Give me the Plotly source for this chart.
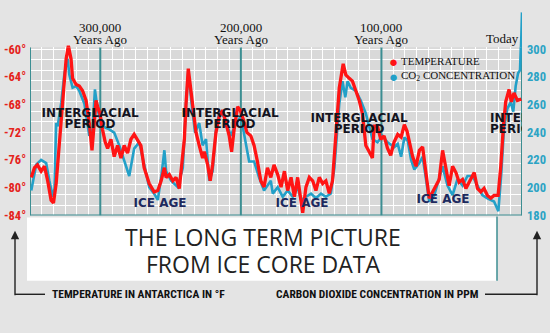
import plotly.graph_objects as go

W, H = 550, 333

# ---- Antarctic temperature, thousands of years before present / deg F ----
temp_age_kyr = [
    -349.1, -346.8, -344.7, -342.1, -339.7, -337.4, -335.0, -333.3, -331.4, -329.1,
    -326.7, -324.3, -322.7, -320.8, -319.7, -317.2, -314.9, -312.6, -310.1, -307.8,
    -305.9, -304.3, -303.0, -301.9, -300.2, -298.4, -296.5, -294.8, -292.4, -290.1,
    -287.7, -285.3, -283.0, -280.6, -278.2, -275.9, -273.5, -271.1, -268.8, -265.2,
    -261.7, -259.1, -256.7, -254.4, -253.2, -250.9, -248.4, -246.1, -243.8, -242.1,
    -240.2, -239.0, -237.4, -235.5, -233.5, -231.9, -229.6, -227.2, -226.0, -223.6,
    -221.8, -220.1, -217.7, -215.4, -213.0, -210.6, -208.3, -206.6, -204.8, -202.3,
    -200.5, -198.1, -195.7, -192.9, -190.6, -188.2, -185.8, -183.5, -181.1, -178.7,
    -176.4, -173.8, -171.4, -169.0, -166.7, -164.3, -161.9, -159.6, -157.9, -156.0,
    -153.7, -151.3, -148.9, -146.6, -144.2, -141.8, -139.5, -137.1, -134.8, -132.4,
    -130.0, -127.2, -125.3, -122.9, -120.6, -118.2, -115.8, -113.5, -111.1, -108.7,
    -106.4, -105.2, -102.8, -100.5, -98.1, -95.7, -93.4, -91.0, -88.4, -86.0,
    -83.7, -81.8, -80.1, -77.8, -75.4, -73.0, -70.7, -68.3, -66.0, -63.6,
    -61.2, -58.9, -56.5, -54.1, -51.8, -49.4, -47.0, -44.7, -42.3, -39.9,
    -37.6, -34.0, -31.7, -29.3, -27.0, -24.6, -22.2, -19.9, -17.0, -15.1,
    -13.3, -11.6, -9.2, -7.6, -5.7, -3.3, -0.5,
]
temp_f = [
    -78.5, -77.1, -76.7, -77.6, -76.9, -79.0, -81.8, -82.2, -79.4, -73.9,
    -67.9, -61.4, -59.5, -61.4, -64.2, -65.1, -65.3, -66.0, -67.4, -70.7,
    -74.6, -70.7, -67.4, -68.3, -69.3, -71.6, -73.4, -74.3, -73.0, -75.5,
    -73.9, -75.7, -73.9, -75.0, -73.0, -72.3, -73.0, -73.9, -77.1, -79.4,
    -80.6, -80.4, -79.0, -77.1, -78.5, -78.1, -79.0, -78.5, -80.1, -77.1,
    -73.0, -67.9, -62.8, -66.0, -69.7, -72.0, -73.9, -75.7, -74.8, -76.7,
    -79.0, -76.7, -72.0, -69.7, -68.8, -70.7, -72.5, -74.8, -71.6, -68.3,
    -68.8, -70.2, -72.0, -72.5, -73.9, -76.2, -79.0, -79.9, -77.1, -78.5,
    -76.7, -78.1, -79.9, -77.6, -80.4, -78.5, -81.3, -78.5, -81.3, -83.6,
    -79.9, -78.5, -79.0, -80.4, -78.5, -79.4, -79.0, -80.8, -79.0, -72.5,
    -65.6, -62.1, -63.7, -64.2, -64.6, -66.0, -67.4, -69.3, -73.9, -74.8,
    -75.7, -71.1, -71.1, -73.0, -72.5, -74.3, -75.3, -73.4, -72.3, -72.7,
    -70.9, -71.8, -73.2, -75.5, -76.9, -74.6, -74.1, -78.3, -81.5, -80.6,
    -79.7, -78.8, -74.6, -77.4, -79.7, -76.9, -77.8, -79.2, -78.8, -80.1,
    -79.2, -77.8, -80.1, -80.6, -80.1, -81.1, -81.5, -81.1, -81.1, -76.9,
    -71.3, -67.6, -65.8, -67.6, -66.3, -67.4, -67.2,
]

# ---- Atmospheric CO2, thousands of years before present / ppm ----
co2_age_kyr = [
    -349.1, -345.6, -342.1, -338.5, -336.2, -333.8, -332.6, -331.4, -330.3, -327.7,
    -325.5, -323.2, -322.0, -319.7, -317.2, -314.9, -311.3, -307.8, -305.5, -303.8,
    -301.9, -298.4, -293.6, -290.1, -286.5, -283.0, -279.4, -275.9, -272.3, -268.8,
    -265.2, -261.7, -259.1, -256.7, -254.4, -253.2, -249.6, -244.9, -241.3, -239.0,
    -237.4, -235.0, -232.6, -229.6, -227.2, -224.8, -222.5, -220.1, -217.7, -215.4,
    -211.8, -207.1, -203.5, -200.0, -196.5, -194.1, -190.6, -187.0, -183.5, -178.7,
    -177.3, -173.8, -170.2, -166.7, -163.1, -159.6, -157.2, -153.7, -150.1, -146.6,
    -143.0, -139.5, -136.0, -133.5, -130.0, -127.7, -125.7, -124.1, -121.8, -118.2,
    -114.7, -111.1, -108.7, -106.4, -102.8, -99.3, -95.7, -92.2, -90.8, -88.4,
    -86.0, -83.7, -81.3, -78.9, -76.6, -73.0, -70.7, -68.3, -66.0, -62.4,
    -58.9, -56.5, -53.0, -49.4, -45.9, -42.3, -38.8, -35.2, -31.7, -28.2,
    -24.6, -19.9, -16.8, -14.7, -12.8, -10.4, -8.0, -6.2, -4.5, -2.8,
    -1.4, -0.5, 0.0,
]
co2_ppm = [
    198.1, 216.7, 220.1, 217.8, 205.1, 193.5, 199.3, 246.7, 244.4, 261.8,
    282.6, 293.1, 281.5, 272.2, 273.4, 269.9, 260.6, 237.5, 242.2, 271.0,
    256.0, 244.4, 242.2, 239.8, 230.6, 219.0, 208.5, 228.3, 232.8, 216.7,
    200.5, 195.8, 191.2, 207.4, 227.1, 212.0, 205.1, 200.5, 214.4, 260.6,
    283.8, 260.6, 239.8, 246.7, 230.6, 235.2, 205.1, 212.0, 242.2, 253.7,
    251.4, 237.5, 246.7, 251.4, 230.6, 219.0, 219.0, 207.4, 198.1, 205.1,
    195.8, 200.5, 193.5, 198.1, 193.5, 200.5, 191.2, 193.5, 195.8, 192.4,
    195.8, 193.5, 195.8, 214.4, 260.6, 276.9, 265.3, 276.9, 272.2, 269.9,
    263.0, 253.7, 244.4, 235.2, 232.8, 237.5, 232.8, 230.6, 229.4, 231.7,
    222.4, 236.3, 234.0, 220.1, 213.2, 217.8, 222.4, 206.3, 190.1, 194.7,
    206.3, 215.5, 201.6, 194.7, 206.3, 201.6, 208.5, 208.5, 201.6, 194.7,
    192.4, 190.1, 183.1, 210.9, 243.3, 257.2, 261.8, 254.9, 273.4, 282.6,
    284.9, 308.1, 326.6,
]

# ---- axis ticks and labels ----
temp_ticks = [-60, -64, -68, -72, -76, -80, -84]
temp_tick_text = [f"{v}°" for v in temp_ticks]
co2_ticks = [300, 280, 260, 240, 220, 200, 180]
era_ages = [-300, -200, -100]
era_numbers = ["300,000", "200,000", "100,000"]

# ---- period labels (age kyr, temperature position) ----
warm_ages = [-307.3, -207.7, -115.9, -22.8]
warm_rows = [(-69.4, -71.0), (-69.4, -71.0), (-70.0, -71.65), (-70.0, -71.65)]
cold_ages = [-257.5, -156.5, -56.2]
cold_temps = [-82.3, -82.3, -81.8]

# ---- geometry (pixels of the 550x333 page) ----
PLOT_L, PLOT_R = 30, 522
GRID_TOP, PLOT_BOT, SPIKE_TOP = 43, 218, 3
Y60_PX = 45                       # pixel row of -60 °F
PX_PER_F = (PLOT_BOT - Y60_PX) / 24.0


def px_to_f(py):
    return -60 - (py - Y60_PX) / PX_PER_F


def f_to_ppm(f):
    return 300 + 5 * (f + 60)


def xp(px):
    return px / W


def yp(py):
    return 1 - py / H


T_BOT, T_TOP = px_to_f(PLOT_BOT), px_to_f(GRID_TOP)
T_UP = px_to_f(SPIKE_TOP)
AGE_RANGE = [-350, 0]

PAPER = "#e4e4e4"
GRID_BG = "#d9d9d9"
RED = "#ff1414"
BLUE = "#23a0c8"
TEAL = "#3c8e92"
TEAL_TXT = "#2ba3c4"
NARROW = "Liberation Sans Narrow, Arial Narrow, Roboto Condensed, sans-serif"
SERIF = "Liberation Serif, Times New Roman, serif"
BOLD = "DejaVu Sans, Verdana, sans-serif"

fig = go.Figure()

# main panel: CO2 (right scale) then temperature (left scale) on top
fig.add_trace(go.Scatter(x=co2_age_kyr, y=co2_ppm, xaxis="x", yaxis="y2", mode="lines",
                         line=dict(color=BLUE, width=2.6), hoverinfo="skip"))
fig.add_trace(go.Scatter(x=temp_age_kyr, y=temp_f, xaxis="x", yaxis="y3", mode="lines",
                         line=dict(color=RED, width=3.3), hoverinfo="skip"))

# period labels, clipped at the plot edge
fig.add_trace(go.Scatter(
    x=warm_ages + warm_ages, y=[r[0] for r in warm_rows] + [r[1] for r in warm_rows],
    xaxis="x", yaxis="y3", mode="text", cliponaxis=True,
    text=["INTERGLACIAL"] * 4 + ["PERIOD"] * 4,
    textposition=["middle center"] * 3 + ["middle right"] + ["middle center"] * 3 + ["middle right"],
    textfont=dict(family=BOLD, size=12, color="#14141f", weight="bold"),
    hoverinfo="skip"))
fig.add_trace(go.Scatter(
    x=cold_ages, y=cold_temps, xaxis="x", yaxis="y3", mode="text",
    text=["ICE AGE"] * 3, textposition="middle center",
    textfont=dict(family=BOLD, size=12, color="#1d2a5e", weight="bold"),
    hoverinfo="skip"))

# upper strip: the part of the record rising above the grid
fig.add_trace(go.Scatter(x=co2_age_kyr, y=co2_ppm, xaxis="x2", yaxis="y4", mode="lines",
                         line=dict(color=BLUE, width=2.6), hoverinfo="skip"))
fig.add_trace(go.Scatter(x=temp_age_kyr, y=temp_f, xaxis="x2", yaxis="y5", mode="lines",
                         line=dict(color=RED, width=3.3), hoverinfo="skip"))

x_dom = [xp(PLOT_L), xp(PLOT_R)]
main_dom = [yp(PLOT_BOT), yp(GRID_TOP)]
upper_dom = [yp(GRID_TOP), yp(SPIKE_TOP)]

shapes = [
    # grid background
    dict(type="rect", xref="paper", yref="paper", x0=x_dom[0], x1=x_dom[1],
         y0=main_dom[0], y1=main_dom[1], fillcolor=GRID_BG, line=dict(width=0), layer="below"),
]
# era dividers and frame, drawn over the grid but under the curves
for age in [-350] + era_ages + [0]:
    shapes.append(dict(type="line", xref="x", yref="y", x0=age, x1=age, y0=T_BOT, y1=T_TOP,
                       line=dict(color=TEAL, width=2), layer="between"))
shapes.append(dict(type="line", xref="x", yref="y", x0=-350, x1=0, y0=T_BOT, y1=T_BOT,
                   line=dict(color=TEAL, width=2), layer="between"))
# caption box
shapes.append(dict(type="rect", xref="paper", yref="paper", x0=xp(27), x1=xp(497),
                   y0=yp(286), y1=yp(220), fillcolor="white", line=dict(width=0), layer="above"))
shapes.append(dict(type="line", xref="paper", yref="paper", x0=xp(497), x1=xp(497),
                   y0=yp(286), y1=yp(219), line=dict(color=TEAL, width=1.5), layer="above"))
# arrow connectors
shapes.append(dict(type="line", xref="paper", yref="paper", x0=xp(15), x1=xp(45),
                   y0=yp(300), y1=yp(300), line=dict(color="#222", width=1.4)))
shapes.append(dict(type="line", xref="paper", yref="paper", x0=xp(485), x1=xp(537),
                   y0=yp(300), y1=yp(300), line=dict(color="#222", width=1.4)))

annotations = []
for age, num in zip(era_ages, era_numbers):
    annotations.append(dict(x=age, xref="x", y=yp(22), yref="paper", text=num, showarrow=False,
                            font=dict(family=SERIF, size=13, color="#111"),
                            xanchor="center", yanchor="middle"))
    annotations.append(dict(x=age, xref="x", y=yp(35), yref="paper", text="Years Ago",
                            showarrow=False, font=dict(family=SERIF, size=13, color="#111"),
                            xanchor="center", yanchor="middle"))
annotations.append(dict(x=xp(521), y=yp(34), xref="paper", yref="paper", text="Today",
                        showarrow=False, font=dict(family=SERIF, size=13, color="#111"),
                        xanchor="right", yanchor="middle"))
# legend
for py, col, lab in [(57, RED, "TEMPERATURE"), (73, BLUE, "CO<sub>2</sub> CONCENTRATION")]:
    annotations.append(dict(x=xp(393), y=yp(py), xref="paper", yref="paper", text="●",
                            showarrow=False, font=dict(size=15, color=col),
                            xanchor="center", yanchor="middle"))
    annotations.append(dict(x=xp(399), y=yp(py), xref="paper", yref="paper", text=lab,
                            showarrow=False, font=dict(family=SERIF, size=11, color="#111"),
                            xanchor="left", yanchor="middle"))
# caption
for py, line in [(240, "THE LONG TERM PICTURE"), (269, "FROM ICE CORE DATA")]:
    annotations.append(dict(x=xp(263), y=yp(py), xref="paper", yref="paper",
                            text=line, showarrow=False,
                            font=dict(family="Open Sans, sans-serif", size=23, color="#222"),
                            xanchor="center", yanchor="middle"))
# axis descriptions and arrows
annotations.append(dict(x=xp(50), y=yp(300), xref="paper", yref="paper",
                        text="TEMPERATURE IN ANTARCTICA IN °F", showarrow=False,
                        font=dict(family=NARROW, size=11.5, color="#111", weight="bold"),
                        xanchor="left", yanchor="middle"))
annotations.append(dict(x=xp(481), y=yp(300), xref="paper", yref="paper",
                        text="CARBON DIOXIDE CONCENTRATION IN PPM", showarrow=False,
                        font=dict(family=NARROW, size=11.5, color="#111", weight="bold"),
                        xanchor="right", yanchor="middle"))
for px in (15, 537):
    annotations.append(dict(x=xp(px), y=yp(234), xref="paper", yref="paper", text="",
                            showarrow=True, ax=0, ay=66, axref="pixel", ayref="pixel",
                            arrowhead=2, arrowsize=1.2, arrowwidth=1.4, arrowcolor="#222"))

fig.update_layout(
    width=W, height=H, margin=dict(l=0, r=0, t=0, b=0),
    paper_bgcolor=PAPER, plot_bgcolor="rgba(0,0,0,0)", showlegend=False,
    xaxis=dict(domain=x_dom, range=AGE_RANGE, tick0=0, dtick=100 / 12, showgrid=True,
               gridcolor="white", gridwidth=1, showticklabels=False, ticks="",
               zeroline=False, showline=False, fixedrange=True),
    yaxis=dict(domain=main_dom, range=[T_BOT, T_TOP], anchor="x", tick0=-84, dtick=1.5,
               showgrid=True, gridcolor="white", gridwidth=1, showticklabels=False,
               ticks="", zeroline=False, showline=False),
    yaxis2=dict(overlaying="y", anchor="x", side="right",
                range=[f_to_ppm(T_BOT), f_to_ppm(T_TOP)],
                tickmode="array", tickvals=co2_ticks, ticktext=[str(v) for v in co2_ticks],
                showgrid=False, zeroline=False, ticks="", ticklabelstandoff=4,
                tickfont=dict(family=NARROW, size=12.5, color=TEAL_TXT, weight="bold")),
    yaxis3=dict(overlaying="y", anchor="x", side="left", range=[T_BOT, T_TOP],
                tickmode="array", tickvals=temp_ticks, ticktext=temp_tick_text,
                showgrid=False, zeroline=False, ticks="", ticklabelstandoff=3,
                tickfont=dict(family=NARROW, size=12.5, color="#e4231c", weight="bold")),
    xaxis2=dict(domain=x_dom, range=AGE_RANGE, anchor="y4", visible=False),
    yaxis4=dict(domain=upper_dom, anchor="x2", range=[f_to_ppm(T_TOP), f_to_ppm(T_UP)],
                visible=False),
    yaxis5=dict(overlaying="y4", anchor="x2", range=[T_TOP, T_UP], visible=False),
    shapes=shapes, annotations=annotations,
)

fig.write_html("out.html")
